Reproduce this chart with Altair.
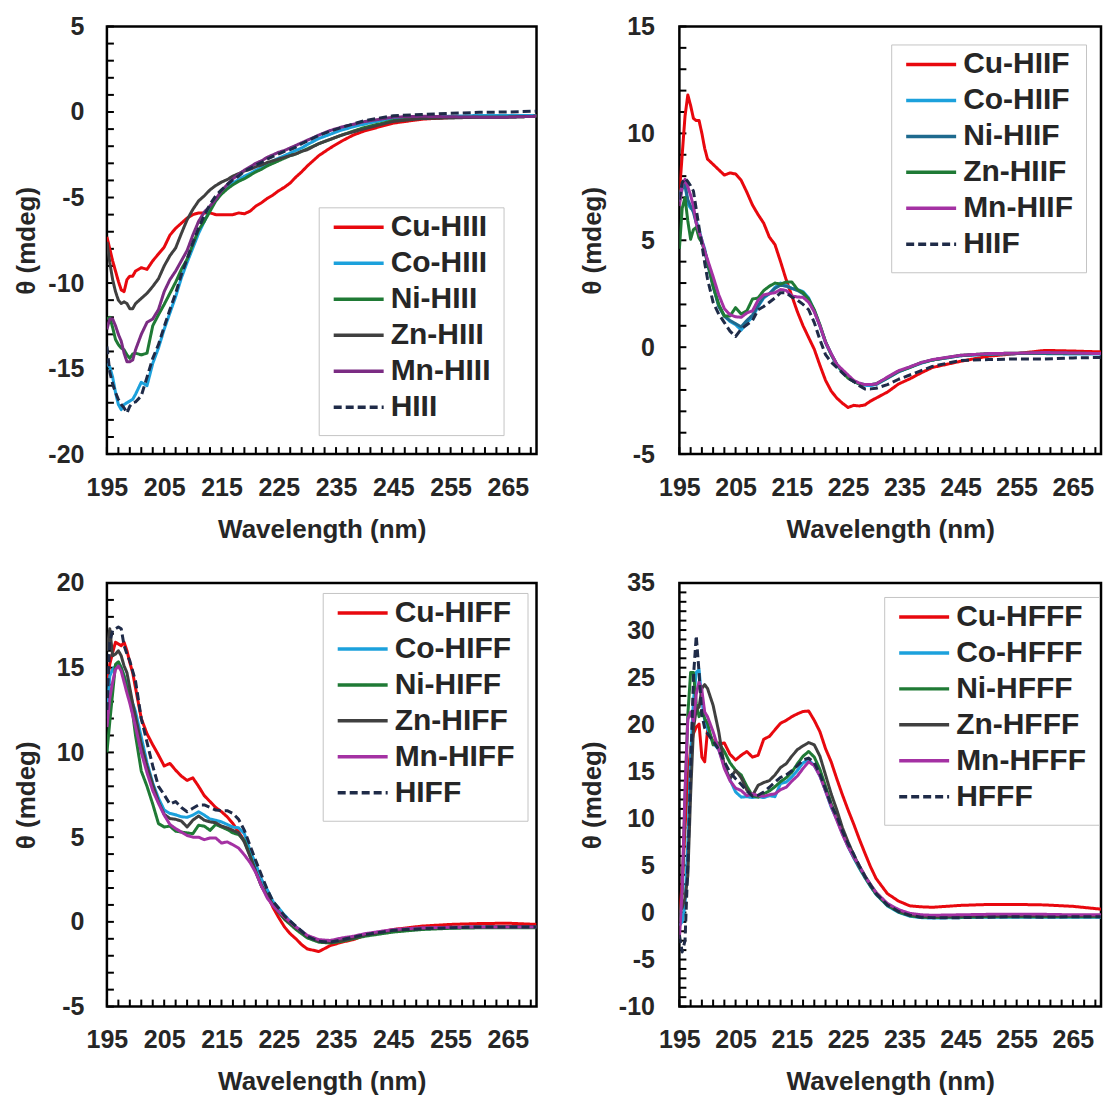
import altair as alt
import pandas as pd

FONT = "Liberation Sans"
TEXT = "#262626"

# ---------------- shared wavelength grid (nm) ----------------
WL = [195, 195.5, 196, 196.5, 197, 197.5, 198, 198.5, 199, 199.5, 200,
      201, 202, 203, 204, 205, 206, 207, 208, 209, 210,
      211, 212, 213, 214, 215, 216, 217, 218, 219, 220,
      221, 222, 223, 224, 225, 226, 227, 228, 229, 230,
      232, 234, 236, 238, 240,
      245, 250, 255, 260, 265, 270]

X_LABELS = [195, 205, 215, 225, 235, 245, 255, 265]
X_TICKS = [195, 197, 199, 201, 203, 205, 207, 209, 211, 213, 215, 217, 219,
           221, 223, 225, 227, 229, 231, 233, 235, 237, 239, 241, 243, 245,
           247, 249, 251, 253, 255, 257, 259, 261, 263, 265, 267, 269]

# ---------------- panel A : HIII ----------------
A_NAMES = ["Cu-HIII", "Co-HIII", "Ni-HIII", "Zn-HIII", "Mn-HIII", "HIII"]
A_CU = [-7.3, -8.0, -8.7, -9.3, -9.9, -10.4, -10.5, -9.8, -9.6, -9.6, -9.3,
        -9.1, -9.2, -8.7, -8.3, -7.9, -7.2, -6.8, -6.5, -6.2, -6.0,
        -5.9, -5.9, -5.9, -6.0, -6.0, -6.0, -6.0, -5.9, -5.95, -5.8,
        -5.5, -5.3, -5.05, -4.85, -4.6, -4.4, -4.15, -3.8, -3.5, -3.15,
        -2.55, -2.1, -1.7, -1.35, -1.1,
        -0.65, -0.42, -0.32, -0.28, -0.25, -0.2]
A_CO = [-14.7, -14.9, -15.5, -16.4, -17.1, -17.4, -17.1, -17.0, -16.9, -16.8, -16.5,
        -15.8, -16.0, -14.7, -13.8, -12.7, -11.75, -10.8, -9.7, -8.8, -7.95,
        -7.1, -6.4, -5.7, -5.15, -4.75, -4.45, -4.15, -3.95, -3.75, -3.6,
        -3.4, -3.25, -3.05, -2.85, -2.7, -2.55, -2.4, -2.25, -2.1, -1.9,
        -1.55, -1.3, -1.05, -0.87, -0.7,
        -0.35, -0.3, -0.25, -0.2, -0.2, -0.2]
A_NI = [-12.1, -12.0, -12.6, -13.3, -13.6, -13.8, -13.9, -14.2, -14.4, -14.15, -14.1,
        -14.2, -14.1, -12.5, -11.85, -11.25, -10.6, -9.95, -9.2, -8.6, -7.75,
        -6.9, -6.4, -5.8, -5.2, -4.8, -4.5, -4.25, -4.05, -3.9, -3.7,
        -3.5, -3.35, -3.15, -3.0, -2.85, -2.7, -2.55, -2.45, -2.3, -2.15,
        -1.85, -1.6, -1.35, -1.12, -0.9,
        -0.5, -0.35, -0.3, -0.3, -0.3, -0.25]
A_ZN = [-7.6, -8.8, -9.8, -10.5, -11.0, -11.2, -11.1, -11.2, -11.5, -11.5, -11.2,
        -10.9, -10.6, -10.2, -9.75, -9.0, -8.4, -7.95, -7.1, -6.3, -5.7,
        -5.2, -4.9, -4.55, -4.3, -4.1, -3.95, -3.75, -3.6, -3.45, -3.35,
        -3.2, -3.1, -2.95, -2.85, -2.75, -2.65, -2.55, -2.45, -2.3, -2.2,
        -1.85, -1.6, -1.35, -1.16, -0.98,
        -0.55, -0.38, -0.35, -0.3, -0.3, -0.25]
A_MN = [-12.7, -12.1, -12.1, -12.5, -13.0, -13.4, -14.1, -14.6, -14.6, -14.5, -13.9,
        -13.0, -12.3, -12.1, -11.55, -10.5, -9.8, -9.3, -8.7, -8.1, -7.2,
        -6.4, -5.85, -5.5, -5.1, -4.6, -4.25, -3.9, -3.65, -3.4, -3.2,
        -3.0, -2.85, -2.65, -2.5, -2.35, -2.25, -2.1, -1.95, -1.8, -1.65,
        -1.35, -1.08, -0.88, -0.72, -0.56,
        -0.3, -0.25, -0.28, -0.3, -0.3, -0.25]
A_APO = [-13.7, -15.2, -15.9, -16.4, -16.8, -17.1, -17.3, -17.6, -17.2, -17.0, -16.95,
         -16.6, -15.5, -14.4, -13.6, -12.55, -11.55, -10.6, -9.5, -8.6, -7.65,
         -6.8, -6.05, -5.4, -4.9, -4.55, -4.25, -3.95, -3.75, -3.45, -3.3,
         -3.1, -2.95, -2.75, -2.6, -2.45, -2.3, -2.2, -2.05, -1.85, -1.7,
         -1.37, -1.12, -0.9, -0.7, -0.5,
         -0.22, -0.15, -0.08, -0.02, 0.0, 0.05]
A_YLABELS = [5, 0, -5, -10, -15, -20]

# ---------------- panel B : HIIF ----------------
B_NAMES = ["Cu-HIIF", "Co-HIIF", "Ni-HIIF", "Zn-HIIF", "Mn-HIIF", "HIIF"]
B_CU = [7.2, 9.0, 10.8, 11.8, 11.3, 10.7, 10.6, 10.6, 10.0, 9.3, 8.8,
        8.55, 8.3, 8.05, 8.15, 8.1, 7.8, 7.25, 6.65, 6.2, 5.8,
        5.15, 4.8, 4.0, 3.15, 2.4, 1.65, 1.0, 0.45, -0.1, -0.85,
        -1.55, -2.05, -2.38, -2.62, -2.82, -2.72, -2.75, -2.7, -2.52, -2.38,
        -2.1, -1.72, -1.48, -1.2, -0.95,
        -0.66, -0.42, -0.3, -0.15, -0.18, -0.22]
B_CO = [7.0, 7.6, 7.6, 6.7, 6.5, 6.4, 5.9, 5.5, 5.0, 4.6, 4.0,
        2.9, 1.95, 1.46, 1.2, 1.05, 0.8, 1.15, 1.4, 1.9, 2.3,
        2.5, 2.8, 3.0, 2.9, 2.75, 2.7, 2.6, 2.3, 1.7, 1.0,
        0.2, -0.35, -0.85, -1.15, -1.4, -1.6, -1.72, -1.78, -1.8, -1.75,
        -1.45, -1.15, -0.95, -0.75, -0.6,
        -0.4, -0.33, -0.3, -0.3, -0.32, -0.32]
B_NI = [6.8, 7.4, 7.6, 6.9, 6.6, 6.3, 5.8, 5.4, 4.9, 4.5, 3.9,
        2.85, 1.9, 1.45, 1.25, 1.1, 0.95, 1.25, 1.5, 1.95, 2.35,
        2.5, 2.75, 2.9, 2.85, 2.75, 2.65, 2.5, 2.2, 1.7, 1.0,
        0.25, -0.3, -0.8, -1.1, -1.4, -1.6, -1.7, -1.75, -1.75, -1.72,
        -1.45, -1.15, -0.93, -0.74, -0.6,
        -0.4, -0.32, -0.3, -0.3, -0.3, -0.3]
B_ZN = [4.6, 6.5, 7.0, 5.9, 5.05, 5.5, 5.6, 5.1, 4.9, 4.5, 4.0,
        2.85, 2.0, 1.46, 1.46, 1.85, 1.55, 1.7, 2.25, 2.3, 2.65,
        2.85, 3.0, 2.95, 3.05, 3.05, 2.7, 2.55, 2.25, 1.75, 1.05,
        0.25, -0.35, -0.8, -1.15, -1.45, -1.6, -1.72, -1.75, -1.75, -1.72,
        -1.42, -1.12, -0.95, -0.72, -0.6,
        -0.38, -0.3, -0.28, -0.26, -0.28, -0.3]
B_MN = [6.6, 7.6, 7.85, 7.5, 7.1, 6.6, 5.8, 5.4, 5.0, 4.5, 4.1,
        3.3, 2.45, 1.8, 1.52, 1.42, 1.4, 1.6, 1.7, 2.2, 2.45,
        2.5, 2.55, 2.7, 2.65, 2.4, 2.35, 2.33, 2.1, 1.65, 1.0,
        0.22, -0.3, -0.8, -1.05, -1.3, -1.55, -1.68, -1.75, -1.75, -1.72,
        -1.4, -1.1, -0.92, -0.72, -0.58,
        -0.38, -0.3, -0.28, -0.25, -0.27, -0.3]
B_APO = [6.9, 7.7, 7.9, 7.75, 7.55, 7.3, 6.45, 5.6, 4.8, 3.95, 3.2,
         2.1, 1.55, 1.15, 0.75, 0.5, 0.85, 1.05, 1.25, 1.75, 1.9,
         2.1, 2.3, 2.55, 2.55, 2.35, 2.2, 2.0, 1.75, 1.15, 0.35,
         -0.35, -0.7, -0.95, -1.2, -1.45, -1.6, -1.8, -1.95, -1.95, -1.92,
         -1.75, -1.5, -1.3, -1.1, -0.9,
         -0.62, -0.58, -0.55, -0.55, -0.5, -0.48]
B_YLABELS = [15, 10, 5, 0, -5]

# ---------------- panel C : HIFF ----------------
C_NAMES = ["Cu-HIFF", "Co-HIFF", "Ni-HIFF", "Zn-HIFF", "Mn-HIFF", "HIFF"]
C_CU = [14.0, 15.2, 15.9, 16.5, 16.4, 16.3, 16.5, 16.0, 15.3, 14.7, 13.8,
        12.0, 11.1, 10.45, 9.85, 9.2, 9.35, 8.95, 8.6, 8.35, 8.5,
        8.0, 7.45, 7.1, 6.75, 6.5, 6.2, 5.8, 5.3, 4.8, 3.95,
        3.25, 2.45, 1.6, 0.85, 0.25, -0.3, -0.7, -1.0, -1.35, -1.6,
        -1.75, -1.4, -1.2, -1.05, -0.8,
        -0.45, -0.25, -0.15, -0.1, -0.08, -0.15]
C_CO = [12.0, 14.5, 14.9, 15.1, 15.3, 15.0, 14.5, 14.0, 13.5, 12.9, 12.4,
        10.9, 9.4, 8.2, 7.3, 6.6, 6.4, 6.32, 6.2, 6.17, 6.3,
        6.5, 6.3, 6.07, 6.0, 5.9, 5.75, 5.59, 5.55, 5.2, 4.2,
        3.4, 2.5, 1.9, 1.2, 0.8, 0.4, 0.05, -0.3, -0.55, -0.85,
        -1.15, -1.2, -1.1, -0.95, -0.8,
        -0.55, -0.42, -0.35, -0.3, -0.3, -0.3]
C_NI = [10.0, 11.8, 13.5, 15.2, 15.35, 15.0, 14.5, 13.8, 13.2, 12.3, 11.0,
        8.9, 8.0, 6.95, 5.8, 5.6, 5.65, 5.35, 5.3, 5.25, 5.2,
        5.7, 5.65, 5.4, 5.75, 5.6, 5.45, 5.25, 5.15, 4.8, 3.9,
        2.95, 2.1, 1.55, 1.0, 0.55, 0.15, -0.15, -0.45, -0.7, -0.95,
        -1.2, -1.25, -1.15, -1.0, -0.85,
        -0.6, -0.45, -0.38, -0.35, -0.35, -0.35]
C_ZN = [16.0, 17.3, 15.7, 15.8, 16.0, 15.7, 15.1, 14.7, 13.8, 12.9, 12.1,
        10.5, 9.2, 8.1, 7.1, 6.35, 6.1, 6.05, 5.95, 5.6, 6.0,
        6.25, 6.0, 5.9, 5.85, 5.65, 5.55, 5.4, 5.25, 4.7, 3.85,
        2.95, 2.1, 1.5, 1.0, 0.6, 0.2, -0.06, -0.35, -0.6, -0.85,
        -1.15, -1.2, -1.1, -0.95, -0.78,
        -0.5, -0.38, -0.32, -0.3, -0.28, -0.28]
C_MN = [11.5, 13.2, 14.15, 14.9, 15.1, 14.8, 14.15, 13.5, 12.9, 12.2, 11.5,
        10.0, 8.8, 7.75, 7.0, 6.3, 5.75, 5.5, 5.3, 5.1, 5.0,
        5.0, 4.85, 4.95, 4.95, 4.65, 4.72, 4.55, 4.35, 3.95, 3.5,
        2.9, 2.1, 1.4, 0.95, 0.6, 0.3, 0.0, -0.3, -0.55, -0.8,
        -1.05, -1.1, -0.95, -0.85, -0.7,
        -0.45, -0.35, -0.32, -0.3, -0.3, -0.3]
C_APO = [12.5, 16.5, 17.2, 17.3, 17.4, 17.3, 16.3, 15.8, 15.4, 14.8, 14.2,
         12.0, 10.6, 9.2, 8.0, 7.5, 6.95, 7.1, 6.75, 6.5, 6.7,
         6.9, 6.9, 6.75, 6.6, 6.56, 6.56, 6.4, 6.05, 5.4, 4.5,
         3.6, 2.75, 1.9, 1.2, 0.8, 0.35, 0.05, -0.25, -0.55, -0.85,
         -1.15, -1.2, -1.05, -0.9, -0.75,
         -0.5, -0.4, -0.35, -0.3, -0.3, -0.3]
C_YLABELS = [20, 15, 10, 5, 0, -5]

# ---------------- panel D : HFFF ----------------
D_NAMES = ["Cu-HFFF", "Co-HFFF", "Ni-HFFF", "Zn-HFFF", "Mn-HFFF", "HFFF"]
D_CU = [0.0, 3.0, 9.0, 14.0, 17.5, 19.0, 19.7, 20.0, 16.5, 16.0, 19.3,
        18.2, 17.9, 18.0, 16.8, 16.2, 16.7, 17.1, 16.5, 16.7, 18.4,
        18.7, 19.4, 20.1, 20.4, 20.8, 21.1, 21.35, 21.4, 20.4, 19.2,
        17.4, 16.0, 14.2, 12.5, 10.9, 9.4, 7.8, 6.3, 4.85, 3.6,
        2.0, 1.2, 0.7, 0.6, 0.55,
        0.75, 0.85, 0.85, 0.8, 0.65, 0.35]
D_CO = [-1.4, -1.0, 0.8, 7.4, 16.5, 22.5, 25.5, 25.8, 22.5, 20.4, 19.5,
        18.0, 17.3, 15.6, 14.1, 12.8, 12.25, 12.3, 12.2, 12.3, 12.2,
        12.4, 12.3, 13.7, 13.85, 14.4, 15.1, 15.9, 16.2, 15.6, 14.5,
        12.9, 11.2, 9.9, 8.4, 7.0, 5.8, 4.7, 3.7, 2.75, 1.9,
        0.7, 0.0, -0.4, -0.55, -0.6,
        -0.55, -0.5, -0.5, -0.5, -0.5, -0.5]
D_NI = [-1.0, 2.0, 12.0, 21.0, 25.5, 25.5, 22.2, 20.8, 21.4, 20.6, 20.1,
        17.8, 18.0, 17.1, 15.9, 15.1, 14.6, 13.4, 12.4, 12.25, 12.6,
        12.9, 13.35, 13.9, 14.3, 14.9, 15.8, 16.6, 17.1, 16.5, 15.2,
        13.4, 11.6, 10.0, 8.5, 7.1, 5.9, 4.8, 3.75, 2.8, 1.95,
        0.75, 0.05, -0.35, -0.5, -0.55,
        -0.5, -0.45, -0.45, -0.45, -0.45, -0.45]
D_ZN = [0.0, 0.5, 1.5, 3.9, 12.5, 19.5, 21.6, 21.8, 23.8, 24.2, 23.8,
        22.0, 19.2, 15.5, 14.2, 15.1, 14.3, 13.0, 12.4, 13.5, 13.8,
        14.0, 14.6, 15.4, 15.8, 16.6, 17.3, 17.7, 18.05, 17.8, 16.6,
        14.6, 12.6, 10.9, 9.0, 7.5, 6.1, 4.95, 3.9, 2.95, 2.1,
        0.9, 0.2, -0.2, -0.4, -0.45,
        -0.4, -0.35, -0.35, -0.35, -0.35, -0.35]
D_MN = [-2.8, 2.5, 13.0, 20.5, 21.3, 20.3, 23.2, 24.5, 23.6, 21.3, 20.8,
        19.2, 17.3, 15.3, 14.0, 13.2, 12.95, 12.4, 12.6, 12.4, 12.35,
        12.5, 12.6, 13.05, 13.3, 13.95, 14.5, 15.3, 16.0, 15.6, 14.5,
        12.9, 11.3, 9.8, 8.3, 7.0, 5.9, 4.95, 3.85, 2.95, 2.1,
        0.95, 0.3, -0.1, -0.25, -0.3,
        -0.25, -0.2, -0.2, -0.2, -0.25, -0.25]
D_APO = [-2.4, -4.2, -3.0, 5.0, 15.0, 25.0, 29.4, 25.5, 21.0, 19.6, 19.0,
         18.2, 17.3, 16.0, 14.9, 14.2, 13.6, 12.9, 12.35, 12.45, 12.8,
         13.3, 13.85, 14.35, 14.6, 15.05, 15.6, 16.2, 16.4, 15.9, 14.7,
         13.1, 11.4, 10.2, 8.65, 7.3, 6.2, 4.95, 3.85, 2.9, 2.0,
         0.8, 0.1, -0.3, -0.5, -0.55,
         -0.55, -0.5, -0.45, -0.5, -0.45, -0.45]
D_YLABELS = [35, 30, 25, 20, 15, 10, 5, 0, -5, -10]

# ---------------- colours ----------------
RED = "#E8080E"
LBLUE = "#1CA1DC"
GREEN = "#1F7A35"
GREY = "#404040"
PURPLE_DARK = "#7B2C83"
PURPLE = "#A431A3"
TEAL = "#1E6A8E"
NAVY = "#1F2B48"

SOLID = [1, 0]
DASH = [8, 4]
LABEL_EXPR = "'' + datum.value"


def panel(names, series, colors, ydom, ylabels, width, height, lx, ly,
          ylp, ytp):
    rows = []
    for name, vals in zip(names, series):
        for w, v in zip(WL, vals):
            rows.append({"wl": w, "theta": v, "series": name})
    df = pd.DataFrame(rows)

    xs = alt.Scale(domain=[195, 270], nice=False, zero=False)
    ys = alt.Scale(domain=ydom, nice=False, zero=False)
    yticks = list(range(ydom[0], ydom[1] + 1))

    x_axis = alt.Axis(
        values=X_LABELS, title="Wavelength (nm)", ticks=False,
        domain=False, grid=False, labelFlush=False, labelOverlap=False,
        labelFont=FONT, labelFontSize=25, labelFontWeight="bold",
        labelColor=TEXT, labelPadding=21, minExtent=45, maxExtent=45,
        titleFont=FONT, titleFontSize=26, titleFontWeight="bold",
        titleColor=TEXT, titlePadding=17)
    y_axis = alt.Axis(
        values=ylabels, title="θ (mdeg)", ticks=False, domain=False,
        grid=False, labelFlush=False, labelOverlap=False,
        labelExpr=LABEL_EXPR,
        labelFont=FONT, labelFontSize=25, labelFontWeight="bold",
        labelColor=TEXT, labelPadding=ylp, minExtent=58, maxExtent=58,
        titleFont=FONT, titleFontSize=26, titleFontWeight="bold",
        titleColor=TEXT, titlePadding=ytp)

    leg = alt.Legend(
        title=None, orient="none", legendX=lx, legendY=ly, direction="vertical",
        fillColor="white", strokeColor="#c4c4c4", padding=13, cornerRadius=0,
        labelFont=FONT, labelFontSize=30, labelFontWeight="bold",
        labelColor=TEXT, labelOffset=5, labelLimit=400, rowPadding=6,
        clipHeight=14,
        symbolType="stroke", symbolSize=2500, symbolStrokeWidth=3.5)

    lines = alt.Chart(df).mark_line(strokeWidth=3, strokeJoin="round",
                                    clip=True).encode(
        x=alt.X("wl:Q", scale=xs, axis=x_axis),
        y=alt.Y("theta:Q", scale=ys, axis=y_axis),
        color=alt.Color("series:N", scale=alt.Scale(domain=names, range=colors),
                        legend=leg),
        strokeDash=alt.StrokeDash("series:N", scale=alt.Scale(
            domain=names, range=[SOLID] * 5 + [DASH]), legend=leg),
    )

    # inward minor tick marks (decoration), positioned through the shared scales
    xt = alt.Chart(pd.DataFrame({"t": X_TICKS})).mark_rule(
        color="black", strokeWidth=2).encode(
        x=alt.X("t:Q", scale=xs, axis=x_axis),
        y=alt.value(height), y2=alt.value(height - 7))
    yt = alt.Chart(pd.DataFrame({"t": yticks})).mark_rule(
        color="black", strokeWidth=2).encode(
        y=alt.Y("t:Q", scale=ys, axis=y_axis),
        x=alt.value(0), x2=alt.value(7))

    return alt.layer(xt, yt, lines).properties(width=width, height=height)


pA = panel(A_NAMES, [A_CU, A_CO, A_NI, A_ZN, A_MN, A_APO],
           [RED, LBLUE, GREEN, GREY, PURPLE_DARK, NAVY],
           [-20, 5], A_YLABELS, 430, 428, 212, 181, 23, 9)
pB = panel(B_NAMES, [B_CU, B_CO, B_NI, B_ZN, B_MN, B_APO],
           [RED, LBLUE, TEAL, GREEN, PURPLE, NAVY],
           [-5, 15], B_YLABELS, 422, 428, 212, 18, 25, 16)
pC = panel(C_NAMES, [C_CU, C_CO, C_NI, C_ZN, C_MN, C_APO],
           [RED, LBLUE, GREEN, GREY, PURPLE, NAVY],
           [-5, 20], C_YLABELS, 430, 424, 216, 10, 23, 9)
pD = panel(D_NAMES, [D_CU, D_CO, D_NI, D_ZN, D_MN, D_APO],
           [RED, LBLUE, GREEN, GREY, PURPLE, NAVY],
           [-10, 35], D_YLABELS, 422, 424, 205, 14, 25, 16)

row1 = alt.hconcat(pA, pB, spacing=39).resolve_scale(
    color="independent", strokeDash="independent").resolve_legend(
    color="independent", strokeDash="independent")
row2 = alt.hconcat(pC, pD, spacing=39).resolve_scale(
    color="independent", strokeDash="independent").resolve_legend(
    color="independent", strokeDash="independent")

chart = alt.vconcat(row1, row2, spacing=25).resolve_scale(
    color="independent", strokeDash="independent").resolve_legend(
    color="independent", strokeDash="independent").properties(
    padding={"left": 4, "top": 4, "right": 0, "bottom": 0},
    background="white",
).configure_view(stroke="black", strokeWidth=2.5)

chart.save("out.html", embed_options={"renderer": "svg", "actions": False})
